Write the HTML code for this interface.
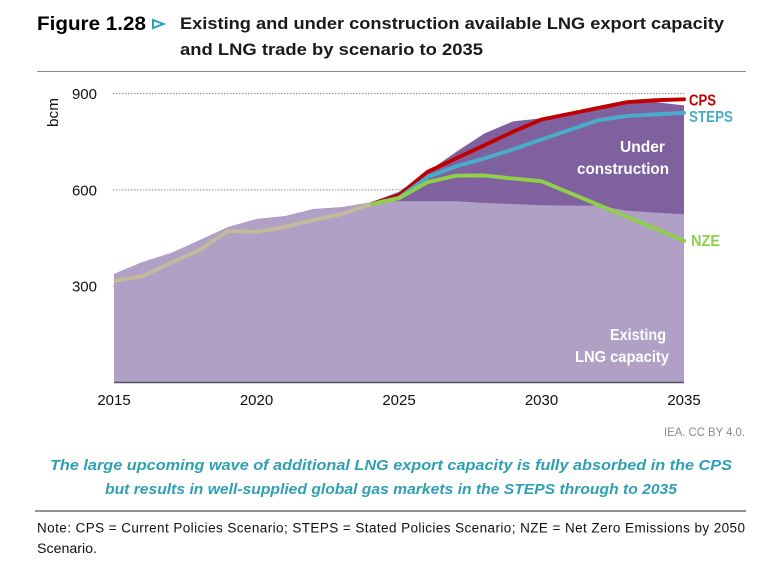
<!DOCTYPE html>
<html lang="en">
<head>
<meta charset="utf-8">
<title>LNG export capacity and trade</title>
<style>
html,body{margin:0;padding:0;background:#fff;width:784px;height:565px;overflow:hidden}
svg{display:block}
text{font-family:"Liberation Sans",Arial,sans-serif}
.title{font-size:17px;font-weight:bold;fill:#1a1a1a}
.tick{font-size:15px;fill:#111}
.white{font-size:15.5px;font-weight:bold;fill:#fff}
.cap{font-size:15px;font-weight:bold;font-style:italic;fill:#2f9fb5}
.note{font-size:13.5px;fill:#111}
.lab{font-size:16px;font-weight:bold}
</style>
</head>
<body>
<svg id="fig" xmlns="http://www.w3.org/2000/svg" width="784" height="565" viewBox="0 0 784 565">
  <text x="37" y="30" font-size="19" font-weight="bold" fill="#000" textLength="109" lengthAdjust="spacingAndGlyphs">Figure 1.28</text>
  <path d="M153 20 L163.5 24 L153 28 Z" fill="none" stroke="#2f9fb5" stroke-width="2"/>
  <text class="title" x="180" y="29" textLength="544" lengthAdjust="spacingAndGlyphs">Existing and under construction available LNG export capacity</text>
  <text class="title" x="180" y="55" textLength="303" lengthAdjust="spacingAndGlyphs">and LNG trade by scenario to 2035</text>
  <line x1="37" y1="71.5" x2="746" y2="71.5" stroke="#8c8c8c" stroke-width="1"/>

  <g id="plot"></g>

  <text class="tick" transform="translate(58,127) rotate(-90)" textLength="29" lengthAdjust="spacingAndGlyphs">bcm</text>

  <text class="white" x="620" y="152" textLength="45" lengthAdjust="spacingAndGlyphs">Under</text>
  <text class="white" x="577" y="174" textLength="92" lengthAdjust="spacingAndGlyphs">construction</text>
  <text class="white" x="610" y="340" textLength="56" lengthAdjust="spacingAndGlyphs">Existing</text>
  <text class="white" x="575" y="362" textLength="94" lengthAdjust="spacingAndGlyphs">LNG capacity</text>

  <text class="lab" x="689" y="105.5" fill="#c00000" textLength="27" lengthAdjust="spacingAndGlyphs">CPS</text>
  <text class="lab" x="689" y="122" fill="#4aaccb" textLength="44" lengthAdjust="spacingAndGlyphs">STEPS</text>
  <text class="lab" x="691" y="246" fill="#8fcf4a" textLength="29" lengthAdjust="spacingAndGlyphs">NZE</text>

  <text x="664" y="436" font-size="11.5" fill="#8a8a8a" textLength="81" lengthAdjust="spacingAndGlyphs">IEA. CC BY 4.0.</text>
  <text class="cap" x="50" y="470" textLength="682" lengthAdjust="spacingAndGlyphs">The large upcoming wave of additional LNG export capacity is fully absorbed in the CPS</text>
  <text class="cap" x="105" y="494" textLength="572" lengthAdjust="spacingAndGlyphs">but results in well-supplied global gas markets in the STEPS through to 2035</text>
  <line x1="35" y1="511" x2="746" y2="511" stroke="#929292" stroke-width="2"/>
  <text class="note" x="37" y="532.5" textLength="708" lengthAdjust="spacing">Note: CPS = Current Policies Scenario; STEPS = Stated Policies Scenario; NZE = Net Zero Emissions by 2050</text>
  <text class="note" x="37" y="553" textLength="60" lengthAdjust="spacingAndGlyphs">Scenario.</text>
</svg>
<script>
const years = [2015,2016,2017,2018,2019,2020,2021,2022,2023,2024,2025,2026,2027,2028,2029,2030,2031,2032,2033,2034,2035];
const existingCapacity = [338,375,403,443,484,509,518,540,546,561,565,565,565,559,556,552,551,551,535,529,524];
const totalCapacity = [338,375,403,443,484,509,518,540,546,561,594,656,718,776,813,823,841,859,877,873,863];
const historyYears = [2015,2016,2017,2018,2019,2020,2021,2022,2023,2024];
const historyTrade = [316,331,373,412,472,469,484,506,525,555];
const scenarioYears = [2024,2025,2026,2027,2028,2029,2030,2031,2032,2033,2034,2035];
const cpsTrade = [555,583,656,698,739,781,819,837,855,873,879,882];
const stepsTrade = [555,575,640,673,698,726,757,787,817,830,835,840];
const nzeTrade = [555,574,624,644,645,635,627,590,553,516,479,441];
const yTicks = [300,600,900];
const xTicks = [2015,2020,2025,2030,2035];

const SVGNS = 'http://www.w3.org/2000/svg';
const plot = document.getElementById('plot');
function xScale(year){ return 114 + (year - 2015) * 28.5; }
function yScale(v){ return 382.5 - v * (289 / 900); }
function make(tag, attrs){
  const el = document.createElementNS(SVGNS, tag);
  for (const k in attrs) el.setAttribute(k, attrs[k]);
  plot.appendChild(el);
  return el;
}
function areaPath(xs, vs){
  let d = 'M' + xScale(xs[0]) + ' ' + yScale(0);
  xs.forEach((x, i) => { d += ' L' + xScale(x) + ' ' + yScale(vs[i]); });
  d += ' L' + xScale(xs[xs.length - 1]) + ' ' + yScale(0) + ' Z';
  return d;
}
function linePoints(xs, vs){
  return xs.map((x, i) => xScale(x) + ',' + yScale(vs[i])).join(' ');
}

yTicks.forEach(t => {
  const grid = make('line', {x1: 113, x2: xScale(2035), y1: yScale(t), y2: yScale(t), stroke: '#9a9a9a', 'stroke-width': 1.2, 'stroke-dasharray': '1.5 1.5'});
  
  
  const label = make('text', {x: 97, y: yScale(t) + 5.5, 'text-anchor': 'end', class: 'tick'});
  label.textContent = t;
  
  
});

const totalArea = make('path', {d: areaPath(years, totalCapacity), fill: '#80619f'});



const existingArea = make('path', {d: areaPath(years, existingCapacity), fill: '#b0a0c5'});



const axisLine = make('line', {x1: xScale(2015), x2: xScale(2035), y1: yScale(0), y2: yScale(0), stroke: '#57505f', 'stroke-width': 1.5});



xTicks.forEach(t => {
  const label = make('text', {x: xScale(t), y: 405, 'text-anchor': 'middle', class: 'tick'});
  label.textContent = t;
  
  
});

const cpsLine = make('polyline', {points: linePoints(scenarioYears, cpsTrade), fill: 'none', stroke: '#c00000', 'stroke-width': 3.9, 'stroke-linecap': 'round', 'stroke-linejoin': 'round'});



const stepsLine = make('polyline', {points: linePoints(scenarioYears, stepsTrade), fill: 'none', stroke: '#4aaccb', 'stroke-width': 3.9, 'stroke-linecap': 'round', 'stroke-linejoin': 'round'});



const nzeLine = make('polyline', {points: linePoints(scenarioYears, nzeTrade), fill: 'none', stroke: '#8fcf4a', 'stroke-width': 3.9, 'stroke-linecap': 'round', 'stroke-linejoin': 'round'});



const historyLine = make('polyline', {points: linePoints(historyYears, historyTrade), fill: 'none', stroke: '#c4b99a', 'stroke-width': 3.9, 'stroke-linejoin': 'round'});


</script>
</body>
</html>
